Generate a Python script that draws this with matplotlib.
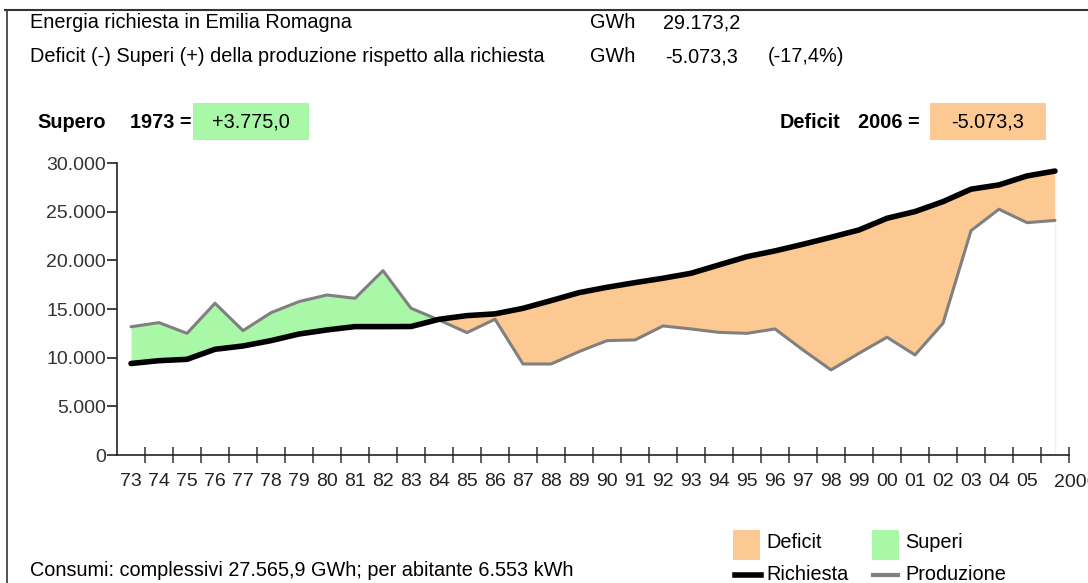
import matplotlib
matplotlib.use("Agg")
import matplotlib.pyplot as plt
from matplotlib.patches import Rectangle
from matplotlib.lines import Line2D
from matplotlib.ticker import FuncFormatter
import numpy as np

plt.rcParams['font.family'] = ['Liberation Sans', 'DejaVu Sans']

# data (GWh)
anni = ['73', '74', '75', '76', '77', '78', '79', '80', '81', '82', '83', '84',
        '85', '86', '87', '88', '89', '90', '91', '92', '93', '94', '95', '96',
        '97', '98', '99', '00', '01', '02', '03', '04', '05', '2006']
richiesta = [9400, 9690, 9830, 10860, 11200, 11750, 12430, 12850, 13190, 13190,
             13200, 13940, 14320, 14500, 15070, 15860, 16680, 17230, 17710, 18160,
             18670, 19530, 20380, 20970, 21650, 22370, 23120, 24320, 25010, 26030,
             27310, 27750, 28670, 29173]
produzione = [13175, 13600, 12500, 15590, 12780, 14620, 15760, 16440, 16100, 18940,
              15080, 13870, 12570, 13950, 9350, 9350, 10620, 11750, 11820, 13260,
              12950, 12600, 12500, 12950, 10790, 8740, 10450, 12100, 10280, 13530,
              23050, 25250, 23870, 24100]

C_DEFICIT = '#fcc992'
C_SUPERI = '#a8f8a8'
C_PROD = '#808080'

W, H = 1088, 583
fig = plt.figure(figsize=(W / 100, H / 100), dpi=100)


def fx(px):
    return px / W


def fy(py):
    return 1 - py / H


ax = fig.add_axes([fx(117), fy(455), fx(1069) - fx(117), fy(163) - fy(455)])

x = np.arange(len(anni))
dem = np.array(richiesta)
prod = np.array(produzione)

ax.fill_between(x, dem, prod, where=prod >= dem, interpolate=True,
                color=C_SUPERI, linewidth=0)
ax.fill_between(x, dem, prod, where=prod <= dem, interpolate=True,
                color=C_DEFICIT, linewidth=0)
ax.vlines(x[-1], 0, dem[-1], color='#eef3e2', linewidth=1, zorder=1)
ax.plot(x, prod, color=C_PROD, linewidth=2.2, solid_capstyle='round')
ax.plot(x, dem, color='black', linewidth=4, solid_capstyle='round')

ax.set_xlim(-0.5, len(anni) - 0.5)
ax.set_ylim(0, 30000)

for s in ['top', 'right']:
    ax.spines[s].set_visible(False)
for s in ['left', 'bottom']:
    ax.spines[s].set_color('#222222')
    ax.spines[s].set_linewidth(1.2)

ax.set_yticks(np.arange(0, 30001, 5000))
ax.yaxis.set_major_formatter(FuncFormatter(lambda v, p: f"{int(v):,}".replace(',', '.')))
ax.tick_params(axis='y', length=7, width=1.2, color='#222222', labelsize=14,
               labelcolor='#333333', pad=1)

ax.set_xticks(x[:-1])
ax.set_xticklabels(anni[:-1])
ax.set_xticks(x + 0.5, minor=True)
ax.tick_params(axis='x', which='major', length=0, labelsize=14, pad=13,
               labelcolor='#222222')
ax.tick_params(axis='x', which='minor', direction='inout', length=12, width=1.1,
               color='#333333')
ax.text(x[-1] - 0.05, -0.065, anni[-1], transform=ax.get_xaxis_transform(),
        ha='left', va='top', fontsize=14, color='#222222', clip_on=False)

# frame
fig.add_artist(Line2D([fx(5), 1], [fy(10), fy(10)], color='#333333', linewidth=1.5))
fig.add_artist(Line2D([fx(7), fx(7)], [fy(10), 0], color='#333333', linewidth=1.2))

# header lines
fs = 14.3
fig.text(fx(30), fy(23), 'Energia richiesta in Emilia Romagna', fontsize=fs, va='center')
fig.text(fx(590), fy(23), 'GWh', fontsize=fs, va='center')
fig.text(fx(663), fy(23), '29.173,2', fontsize=fs, va='center')
fig.text(fx(30), fy(57), 'Deficit (-) Superi (+) della produzione rispetto alla richiesta',
         fontsize=fs, va='center')
fig.text(fx(590), fy(57), 'GWh', fontsize=fs, va='center')
fig.text(fx(665), fy(57), '-5.073,3', fontsize=fs, va='center')
fig.text(fx(768), fy(57), '(-17,4%)', fontsize=fs, va='center')

# boxes
fig.text(fx(37), fy(122), 'Supero', fontsize=fs, fontweight='bold', va='center')
fig.text(fx(130), fy(122), '1973 =', fontsize=fs, fontweight='bold', va='center')
fig.add_artist(Rectangle((fx(193), fy(140)), fx(309) - fx(193), fy(103) - fy(140),
                         transform=fig.transFigure, color=C_SUPERI, linewidth=0))
fig.text(fx(251), fy(122), '+3.775,0', fontsize=fs, va='center', ha='center')

fig.text(fx(780), fy(122), 'Deficit', fontsize=fs, fontweight='bold', va='center')
fig.text(fx(858), fy(122), '2006 =', fontsize=fs, fontweight='bold', va='center')
fig.add_artist(Rectangle((fx(930), fy(140)), fx(1046) - fx(930), fy(103) - fy(140),
                         transform=fig.transFigure, color=C_DEFICIT, linewidth=0))
fig.text(fx(988), fy(122), '-5.073,3', fontsize=fs, va='center', ha='center')

# legend
fig.add_artist(Rectangle((fx(733), fy(560)), fx(760) - fx(733), fy(530) - fy(560),
                         transform=fig.transFigure, color=C_DEFICIT, linewidth=0))
fig.text(fx(766), fy(543), 'Deficit', fontsize=fs, va='center')
fig.add_artist(Rectangle((fx(872), fy(560)), fx(899) - fx(872), fy(530) - fy(560),
                         transform=fig.transFigure, color=C_SUPERI, linewidth=0))
fig.text(fx(905), fy(543), 'Superi', fontsize=fs, va='center')
fig.add_artist(Line2D([fx(735), fx(761)], [fy(575), fy(575)], color='black', linewidth=4))
fig.text(fx(766), fy(575), 'Richiesta', fontsize=fs, va='center')
fig.add_artist(Line2D([fx(873), fx(898)], [fy(575), fy(575)], color=C_PROD, linewidth=3))
fig.text(fx(905), fy(575), 'Produzione', fontsize=fs, va='center')

fig.text(fx(30), fy(571), 'Consumi: complessivi 27.565,9 GWh; per abitante 6.553 kWh',
         fontsize=fs, va='center')

fig.savefig('out.png', dpi=100)
